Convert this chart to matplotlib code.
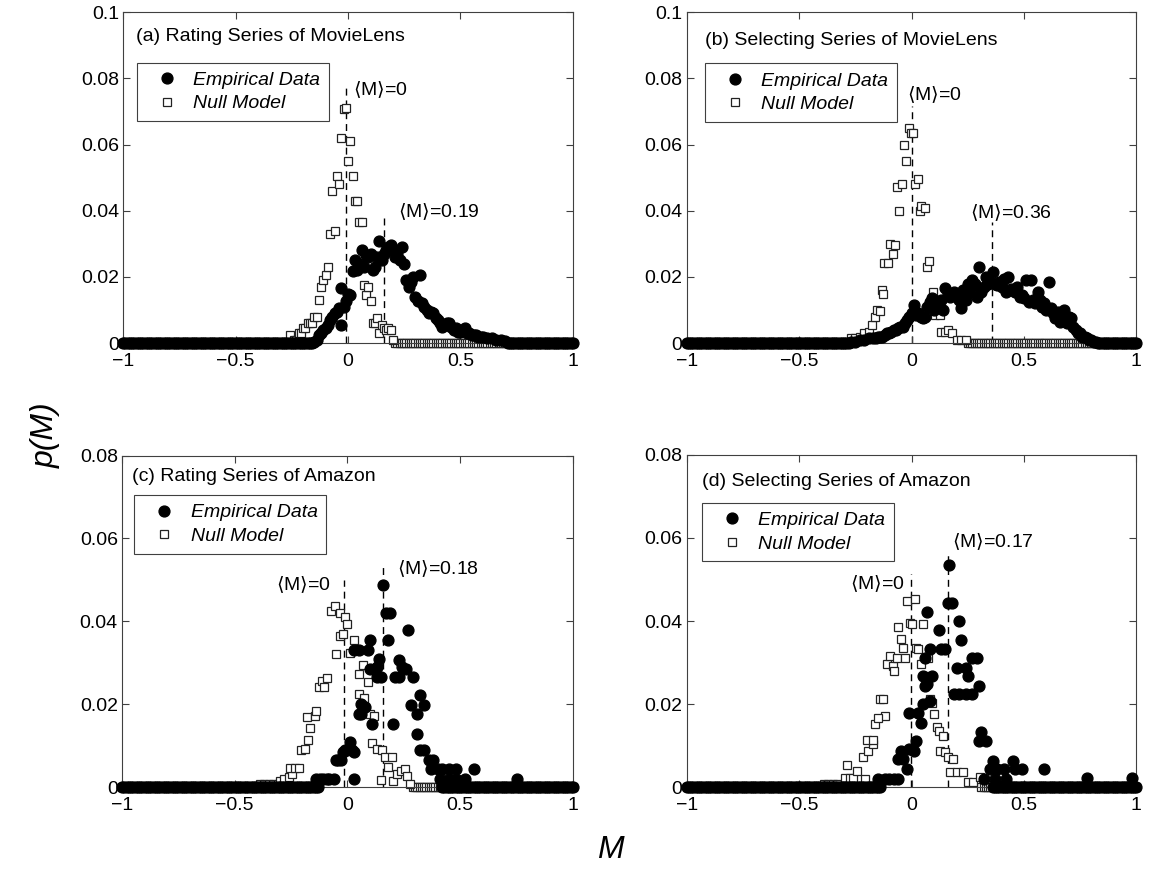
import numpy as np
import matplotlib.pyplot as plt

plt.rcParams['font.family'] = ['Liberation Sans', 'DejaVu Sans']
plt.rcParams['mathtext.fontset'] = 'dejavusans'

# bin centres of M (step 0.01)
M_bins = np.round(np.linspace(-1, 1, 201), 2)

# ---------------- (a) Rating Series of MovieLens ----------------
a_emp_x = [-0.15, -0.14, -0.13, -0.12, -0.11, -0.10, -0.09, -0.08, -0.07, -0.06,
           -0.05, -0.04, -0.03, -0.03, -0.02, -0.01, 0.00, 0.01, 0.02, 0.03,
           0.04, 0.05, 0.06, 0.07, 0.08, 0.09, 0.10, 0.11, 0.12, 0.13,
           0.14, 0.15, 0.16, 0.17, 0.18, 0.19, 0.20, 0.21, 0.22, 0.23,
           0.24, 0.25, 0.26, 0.27, 0.28, 0.29, 0.30, 0.31, 0.32, 0.33,
           0.34, 0.35, 0.36, 0.37, 0.38, 0.39, 0.40, 0.41, 0.42, 0.43,
           0.44, 0.45, 0.46, 0.47, 0.48, 0.49, 0.50, 0.51, 0.52, 0.53,
           0.54, 0.55, 0.56, 0.57, 0.58, 0.59, 0.60, 0.62, 0.64, 0.66,
           0.68, 0.70]
a_emp_y = [0.0005, 0.001, 0.0025, 0.003, 0.004, 0.0045, 0.0055, 0.007, 0.008, 0.009,
           0.0095, 0.0106, 0.0055, 0.0166, 0.011, 0.0126, 0.015, 0.0145, 0.0217, 0.025,
           0.022, 0.024, 0.028, 0.023, 0.0265, 0.026, 0.027, 0.022, 0.023, 0.026,
           0.031, 0.025, 0.027, 0.028, 0.029, 0.0297, 0.028, 0.026, 0.027, 0.025,
           0.029, 0.024, 0.019, 0.017, 0.0185, 0.020, 0.014, 0.0126, 0.0206, 0.012,
           0.011, 0.010, 0.009, 0.0095, 0.009, 0.0075, 0.007, 0.006, 0.005, 0.0055,
           0.006, 0.006, 0.005, 0.004, 0.0045, 0.0035, 0.0035, 0.004, 0.0045, 0.003,
           0.003, 0.0025, 0.0025, 0.0025, 0.002, 0.002, 0.002, 0.0015, 0.0015, 0.001,
           0.001, 0.0008]
a_emp_zero = [(-1, -0.16), (0.71, 1)]
a_null_x = [-0.26, -0.24, -0.23, -0.22, -0.21, -0.20, -0.19, -0.18, -0.17, -0.16,
            -0.15, -0.14, -0.13, -0.12, -0.11, -0.10, -0.09, -0.08, -0.07, -0.06,
            -0.05, -0.04, -0.03, -0.02, -0.01, 0.00, 0.01, 0.02, 0.03, 0.04,
            0.05, 0.06, 0.07, 0.08, 0.09, 0.10, 0.11, 0.12, 0.13, 0.14,
            0.15, 0.16, 0.17, 0.18, 0.19, 0.20]
a_null_y = [0.0025, 0.001, 0.001, 0.003, 0.003, 0.0045, 0.0045, 0.006, 0.006, 0.006,
            0.008, 0.008, 0.013, 0.017, 0.019, 0.0205, 0.023, 0.033, 0.046, 0.034,
            0.0505, 0.048, 0.062, 0.0707, 0.071, 0.055, 0.061, 0.0505, 0.043, 0.043,
            0.0365, 0.0365, 0.0175, 0.0147, 0.017, 0.0126, 0.0062, 0.0062, 0.0075, 0.003,
            0.0055, 0.0045, 0.004, 0.0045, 0.004, 0.001]
a_null_zero = [(-1, -0.27), (0.21, 1)]

# ---------------- (b) Selecting Series of MovieLens ----------------
b_emp_x = [-0.27, -0.25, -0.23, -0.21, -0.19, -0.17, -0.16, -0.15, -0.14, -0.13,
           -0.12, -0.11, -0.10, -0.09, -0.08, -0.07, -0.06, -0.05, -0.04, -0.03,
           -0.02, -0.01, 0.00, 0.01, 0.02, 0.03, 0.04, 0.05, 0.06, 0.07,
           0.08, 0.09, 0.10, 0.11, 0.12, 0.13, 0.14, 0.15, 0.16, 0.17,
           0.18, 0.19, 0.20, 0.21, 0.22, 0.23, 0.24, 0.25, 0.26, 0.27,
           0.28, 0.29, 0.30, 0.31, 0.32, 0.33, 0.34, 0.35, 0.36, 0.37,
           0.38, 0.39, 0.40, 0.41, 0.42, 0.43, 0.44, 0.45, 0.46, 0.47,
           0.48, 0.49, 0.50, 0.51, 0.52, 0.53, 0.54, 0.55, 0.56, 0.57,
           0.58, 0.59, 0.60, 0.61, 0.62, 0.63, 0.64, 0.65, 0.66, 0.67,
           0.68, 0.69, 0.70, 0.71, 0.72, 0.73, 0.74, 0.75, 0.76, 0.77,
           0.78, 0.79, 0.80, 0.81, 0.82]
b_emp_y = [0.0005, 0.0005, 0.001, 0.001, 0.0015, 0.0015, 0.0015, 0.002, 0.002, 0.002,
           0.0025, 0.003, 0.003, 0.0035, 0.004, 0.004, 0.0045, 0.005, 0.005, 0.006,
           0.007, 0.008, 0.009, 0.0116, 0.0085, 0.009, 0.008, 0.0075, 0.008, 0.011,
           0.0125, 0.0136, 0.010, 0.012, 0.011, 0.013, 0.010, 0.0166, 0.015, 0.014,
           0.015, 0.0156, 0.015, 0.013, 0.0106, 0.016, 0.013, 0.018, 0.0156, 0.019,
           0.018, 0.014, 0.023, 0.0155, 0.017, 0.020, 0.018, 0.0186, 0.0216, 0.018,
           0.0175, 0.0186, 0.017, 0.0195, 0.0156, 0.020, 0.0165, 0.016, 0.0155, 0.017,
           0.014, 0.0145, 0.0136, 0.019, 0.0125, 0.019, 0.013, 0.012, 0.0156, 0.013,
           0.011, 0.012, 0.010, 0.0186, 0.0106, 0.009, 0.0075, 0.0095, 0.0065, 0.0085,
           0.010, 0.006, 0.008, 0.0075, 0.005, 0.004, 0.003, 0.003, 0.002, 0.002,
           0.0015, 0.001, 0.001, 0.0005, 0.0005]
b_emp_zero = [(-1, -0.28), (0.83, 1)]
b_null_x = [-0.27, -0.25, -0.23, -0.21, -0.19, -0.175, -0.163, -0.153, -0.141, -0.133,
            -0.126, -0.121, -0.107, -0.096, -0.081, -0.074, -0.063, -0.056, -0.044, -0.033,
            -0.025, -0.012, -0.004, 0.007, 0.015, 0.027, 0.037, 0.044, 0.059, 0.070,
            0.079, 0.096, 0.104, 0.126, 0.133, 0.148, 0.163, 0.178, 0.20, 0.22, 0.24]
b_null_y = [0.0015, 0.0015, 0.002, 0.003, 0.0035, 0.0055, 0.008, 0.010, 0.0096, 0.016,
            0.0148, 0.0242, 0.0242, 0.030, 0.027, 0.0297, 0.0473, 0.0398, 0.048, 0.060,
            0.055, 0.065, 0.0634, 0.0634, 0.048, 0.0496, 0.0398, 0.0413, 0.0408, 0.023,
            0.0247, 0.0156, 0.0086, 0.0086, 0.0035, 0.0035, 0.004, 0.003, 0.001, 0.001, 0.001]
b_null_zero = [(-1, -0.28), (0.25, 1)]

# ---------------- (c) Rating Series of Amazon ----------------
c_emp_x = [-0.14, -0.12, -0.11, -0.09, -0.08, -0.06, -0.05, -0.04, -0.03, -0.02,
           -0.01, 0.00, 0.01, 0.02, 0.03, 0.03, 0.03, 0.05, 0.05, 0.06,
           0.06, 0.08, 0.09, 0.10, 0.10, 0.11, 0.13, 0.13, 0.14, 0.15,
           0.156, 0.17, 0.19, 0.18, 0.20, 0.21, 0.23, 0.23, 0.24, 0.26,
           0.27, 0.28, 0.29, 0.31, 0.32, 0.31, 0.34, 0.32, 0.34, 0.36,
           0.38, 0.37, 0.40, 0.42, 0.45, 0.48, 0.41, 0.45, 0.48, 0.52,
           0.56, 0.75]
c_emp_y = [0.002, 0.002, 0.002, 0.002, 0.002, 0.002, 0.0065, 0.0065, 0.0065, 0.0085,
           0.0089, 0.0089, 0.011, 0.0089, 0.0085, 0.002, 0.033, 0.033, 0.0177, 0.0202,
           0.0177, 0.0194, 0.033, 0.0355, 0.0286, 0.0153, 0.029, 0.0266, 0.031, 0.0266,
           0.0488, 0.042, 0.042, 0.0355, 0.0153, 0.0266, 0.0308, 0.0266, 0.029, 0.0286,
           0.0379, 0.0198, 0.0266, 0.0177, 0.0222, 0.0129, 0.0198, 0.0089, 0.0089, 0.0065,
           0.0065, 0.0044, 0.0044, 0.0044, 0.0044, 0.0044, 0.002, 0.002, 0.002, 0.002,
           0.0044, 0.002]
c_emp_zero = [(-1, -0.13), (0.42, 1)]
c_null_x = [-0.39, -0.37, -0.35, -0.33, -0.31, -0.298, -0.28, -0.261, -0.246, -0.254,
            -0.234, -0.214, -0.207, -0.19, -0.173, -0.168, -0.180, -0.143, -0.139, -0.124,
            -0.111, -0.106, -0.092, -0.074, -0.055, -0.035, -0.050, -0.035, -0.021, -0.010,
            0.0, 0.012, 0.027, 0.053, 0.071, 0.089, 0.052, 0.074, 0.10, 0.118,
            0.108, 0.13, 0.152, 0.148, 0.167, 0.196, 0.182, 0.204, 0.218, 0.236,
            0.255, 0.263, 0.277]
c_null_y = [0.0008, 0.0008, 0.0008, 0.0008, 0.0008, 0.0016, 0.002, 0.0026, 0.0032, 0.0046,
            0.0046, 0.0046, 0.0089, 0.0093, 0.0115, 0.0144, 0.017, 0.0171, 0.0184, 0.0242,
            0.0256, 0.0242, 0.0264, 0.0426, 0.0437, 0.0421, 0.0321, 0.0365, 0.037, 0.0411,
            0.0394, 0.0323, 0.0356, 0.0274, 0.0294, 0.0254, 0.0224, 0.0216, 0.0177, 0.0171,
            0.0106, 0.0093, 0.0089, 0.0018, 0.0073, 0.0073, 0.0048, 0.0016, 0.0032, 0.004,
            0.0044, 0.0028, 0.0008]
c_null_zero = [(-1, -0.40), (0.29, 1)]

# ---------------- (d) Selecting Series of Amazon ----------------
d_emp_x = [-0.15, -0.12, -0.10, -0.08, -0.06, -0.06, -0.04, -0.045, -0.02, -0.01,
           0.01, 0.02, -0.01, 0.03, 0.04, 0.05, 0.08, 0.06, 0.07, 0.05,
           0.09, 0.06, 0.08, 0.07, 0.12, 0.13, 0.15, 0.165, 0.16, 0.18,
           0.21, 0.22, 0.20, 0.24, 0.25, 0.27, 0.29, 0.30, 0.19, 0.21,
           0.24, 0.27, 0.31, 0.30, 0.33, 0.36, 0.35, 0.38, 0.41, 0.45,
           0.46, 0.49, 0.59, 0.32, 0.37, 0.42, 0.78, 0.98]
d_emp_y = [0.002, 0.002, 0.002, 0.002, 0.002, 0.0068, 0.0068, 0.0088, 0.0044, 0.0092,
           0.0088, 0.0112, 0.018, 0.018, 0.0154, 0.020, 0.0208, 0.0244, 0.0248, 0.0268,
           0.0268, 0.0312, 0.0332, 0.0422, 0.0378, 0.0332, 0.0332, 0.0534, 0.0444, 0.0444,
           0.040, 0.0354, 0.0288, 0.0288, 0.0268, 0.031, 0.031, 0.0244, 0.0224, 0.0224,
           0.0224, 0.0224, 0.0132, 0.0112, 0.0112, 0.0064, 0.0044, 0.0044, 0.0044, 0.0064,
           0.0044, 0.0044, 0.0044, 0.002, 0.002, 0.002, 0.0022, 0.0022]
d_emp_zero = [(-1, -0.14), (0.36, 1)]
d_null_x = [-0.39, -0.37, -0.35, -0.33, -0.296, -0.274, -0.26, -0.289, -0.241, -0.207,
            -0.218, -0.193, -0.173, -0.197, -0.170, -0.163, -0.119, -0.148, -0.141, -0.126,
            -0.111, -0.096, -0.084, -0.079, -0.067, -0.059, -0.047, -0.037, -0.030, -0.022,
            -0.007, 0.0, 0.015, 0.019, 0.030, 0.040, 0.049, 0.059, 0.074, 0.081,
            0.092, 0.099, 0.111, 0.123, 0.138, 0.126, 0.148, 0.163, 0.182, 0.170,
            0.20, 0.23, 0.252, 0.274, 0.304]
d_null_y = [0.0008, 0.0008, 0.0008, 0.0008, 0.0022, 0.0022, 0.0022, 0.0054, 0.004, 0.002,
            0.0072, 0.0088, 0.0104, 0.0114, 0.0114, 0.0152, 0.0172, 0.0168, 0.0212, 0.0212,
            0.0296, 0.0316, 0.0292, 0.028, 0.031, 0.0386, 0.0356, 0.0336, 0.031, 0.0448,
            0.0396, 0.0392, 0.0452, 0.0336, 0.0332, 0.0296, 0.0392, 0.0268, 0.031, 0.0212,
            0.0204, 0.0176, 0.0144, 0.0136, 0.0124, 0.0088, 0.0086, 0.0074, 0.0068, 0.0036,
            0.0036, 0.0036, 0.0012, 0.0012, 0.0024]
d_null_zero = [(-1, -0.40), (0.31, 1)]

titles = ['(a) Rating Series of MovieLens', '(b) Selecting Series of MovieLens',
          '(c) Rating Series of Amazon', '(d) Selecting Series of Amazon']
mean_labels = [('0', '0.19'), ('0', '0.36'), ('0', '0.18'), ('0', '0.17')]


def zero_band(ranges):
    xs = [m for m in M_bins if any(lo - 1e-9 <= m <= hi + 1e-9 for lo, hi in ranges)]
    return xs, [0.0] * len(xs)


fig = plt.figure(figsize=(11.62, 8.71), dpi=100)
axes_pos = [[0.106, 0.606, 0.387, 0.380], [0.591, 0.606, 0.387, 0.380],
            [0.105, 0.096, 0.388, 0.381], [0.591, 0.096, 0.387, 0.382]]

panels = [
    (a_emp_x, a_emp_y, a_emp_zero, a_null_x, a_null_y, a_null_zero),
    (b_emp_x, b_emp_y, b_emp_zero, b_null_x, b_null_y, b_null_zero),
    (c_emp_x, c_emp_y, c_emp_zero, c_null_x, c_null_y, c_null_zero),
    (d_emp_x, d_emp_y, d_emp_zero, d_null_x, d_null_y, d_null_zero),
]
# dashed mean lines: (x, top) for null and empirical
mean_lines = [((-0.01, 0.0773), (0.158, 0.0383)),
              ((0.0, 0.0717), (0.356, 0.0365)),
              ((-0.015, 0.050), (0.156, 0.0542)),
              ((-0.004, 0.0514), (0.163, 0.0568))]
# label positions (left x, centre y)
label_pos = [((0.02, 0.0765), (0.222, 0.0398)),
             ((-0.019, 0.0752), (0.259, 0.0395)),
             ((-0.316, 0.049), (0.221, 0.0528)),
             ((-0.274, 0.049), (0.178, 0.059))]
title_pos = [(0.029, 0.928), (0.040, 0.913), (0.022, 0.936), (0.033, 0.920)]
legend_pos = [(0.030, 0.848), (0.040, 0.845), (0.027, 0.881), (0.034, 0.855)]

frame_col = '#404040'
sq = dict(ms=6, mfc='white', mec='#222222', mew=0.9, clip_on=False, zorder=2)
dot = dict(ms=7.8, color='black', mec='black', clip_on=False, zorder=3)
for i, (ex, ey, ez, nx, ny, nz) in enumerate(panels):
    ax = fig.add_axes(axes_pos[i])
    # null model (drawn underneath)
    zx, zy = zero_band(nz)
    ax.plot(zx, zy, 's', **sq)
    hn, = ax.plot(nx, ny, 's', label='Null Model', **sq)
    # empirical data
    zx, zy = zero_band(ez)
    ax.plot(zx, zy, 'o', **dot)
    he, = ax.plot(ex, ey, 'o', label='Empirical Data', **dot)

    (x0, t0), (x1, t1) = mean_lines[i]
    ax.plot([x0, x0], [0, t0], color='black', lw=1.0, dashes=(5, 3.5), zorder=1)
    ax.plot([x1, x1], [0, t1], color='black', lw=1.0, dashes=(5, 3.5), zorder=1)
    (lx0, ly0), (lx1, ly1) = label_pos[i]
    ax.text(lx0, ly0, r'$\langle$M$\rangle$=' + mean_labels[i][0], fontsize=14,
            ha='left', va='center')
    ax.text(lx1, ly1, r'$\langle$M$\rangle$=' + mean_labels[i][1], fontsize=14,
            ha='left', va='center')

    ax.text(title_pos[i][0], title_pos[i][1], titles[i], transform=ax.transAxes,
            fontsize=14, ha='left', va='center')

    leg = ax.legend(handles=[he, hn], loc='upper left', bbox_to_anchor=legend_pos[i],
                    borderaxespad=0, fancybox=False, framealpha=1, edgecolor=frame_col,
                    numpoints=1, borderpad=0.45, handlelength=2.2, handletextpad=0.25,
                    labelspacing=0.3, prop={'style': 'italic', 'size': 14})
    leg.get_frame().set_linewidth(0.8)

    ax.set_xlim(-1, 1)
    ax.set_xticks([-1, -0.5, 0, 0.5, 1])
    ax.set_xticklabels(['\u22121', '\u22120.5', '0', '0.5', '1'])
    if i < 2:
        ax.set_ylim(0, 0.1)
        ax.set_yticks([0, 0.02, 0.04, 0.06, 0.08, 0.1])
        ax.set_yticklabels(['0', '0.02', '0.04', '0.06', '0.08', '0.1'])
    else:
        ax.set_ylim(0, 0.08)
        ax.set_yticks([0, 0.02, 0.04, 0.06, 0.08])
        ax.set_yticklabels(['0', '0.02', '0.04', '0.06', '0.08'])
    ax.tick_params(direction='in', length=5, width=0.8, top=True, right=True,
                   labelsize=14, color=frame_col)
    ax.tick_params(axis='x', pad=7)
    ax.tick_params(axis='y', pad=3)
    for s in ax.spines.values():
        s.set_color(frame_col)
        s.set_linewidth(0.8)

fig.text(0.039, 0.50, 'p(M)', fontsize=23, style='italic', rotation=90,
         ha='center', va='center')
fig.text(0.525, 0.024, 'M', fontsize=23, style='italic', ha='center', va='center')

fig.savefig('out.png', dpi=100)
